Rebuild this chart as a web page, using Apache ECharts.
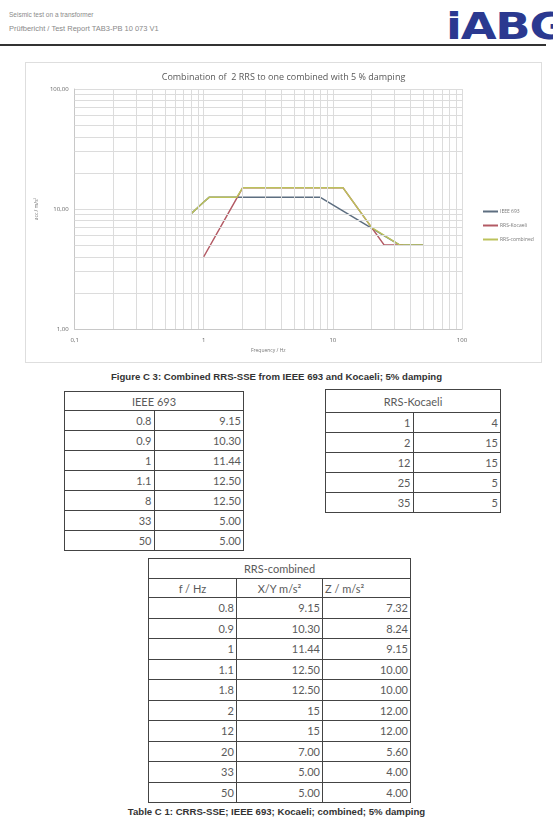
<!DOCTYPE html>
<html>
<head>
<meta charset="utf-8">
<script src="https://cdn.jsdelivr.net/npm/echarts@6/dist/echarts.min.js"></script>
<style>
  body { margin: 0; width: 553px; height: 825px; background: #fff; position: relative; overflow: hidden; font-family: "Liberation Sans", Arial, sans-serif; }
  .abs { position: absolute; }
  .hdr { color: #8a8a8a; white-space: nowrap; }
  .logo { color: #2b3990; font-weight: bold; font-size: 38px; letter-spacing: -1px; transform: scaleX(1.22); transform-origin: left top; font-family: "DejaVu Sans", sans-serif; }
  .rule { left: 0; width: 546px; height: 2px; background: #333; }
  .cap { font-weight: bold; color: #333; font-size: 9.6px; white-space: nowrap; width: 553px; text-align: center; left: 0; }
  #box { left: 25px; top: 62px; width: 517px; height: 301px; box-sizing: border-box; border: 1px solid #dedede; }
  #chart { width: 515px; height: 299px; }
  table { position: absolute; border-collapse: collapse; font-family: Lato, "Open Sans", sans-serif; font-size: 11px; color: #5a5a5a; }
  td { border: 1px solid #444; padding: 0 2px; text-align: right; line-height: 1; }
  td.h { text-align: center; }
</style>
</head>
<body>
<div class="abs hdr" style="left:9px;top:11px;font-size:6.5px;">Seismic test on a transformer</div>
<div class="abs hdr" style="left:9px;top:24px;font-size:7.5px;">Prüfbericht / Test Report TAB3-PB 10 073 V1</div>
<div class="abs logo" style="left:446px;top:4px;">iABG</div>
<div class="abs rule" style="top:44px;"></div>

<div id="box" class="abs"><div id="chart"></div></div>

<div class="abs cap" style="top:371px;">Figure C 3: Combined RRS-SSE from IEEE 693 and Kocaeli; 5% damping</div>

<table id="tIeee" style="left:64px;top:391px;width:180px;"></table>
<table id="tKoc" style="left:325px;top:389px;width:176px;"></table>
<table id="tComb" style="left:148px;top:558px;width:263px;"></table>

<div class="abs cap" style="top:806px;">Table C 1: CRRS-SSE; IEEE 693; Kocaeli; combined; 5% damping</div>

<script>
// IEEE 693
const ieeeFreq = [0.8, 0.9, 1, 1.1, 8, 33, 50];
const ieeeAcc = [9.15, 10.30, 11.44, 12.50, 12.50, 5.00, 5.00];
const ieeeAccText = ["9.15", "10.30", "11.44", "12.50", "12.50", "5.00", "5.00"];

// RRS-Kocaeli
const kocFreq = [1, 2, 12, 25, 35];
const kocAcc = [4, 15, 15, 5, 5];

// RRS-combined
const combFreq = [0.8, 0.9, 1, 1.1, 1.8, 2, 12, 20, 33, 50];
const combXY = [9.15, 10.30, 11.44, 12.50, 12.50, 15, 15, 7.00, 5.00, 5.00];
const combXYText = ["9.15", "10.30", "11.44", "12.50", "12.50", "15", "15", "7.00", "5.00", "5.00"];
const combZText = ["7.32", "8.24", "9.15", "10.00", "10.00", "12.00", "12.00", "5.60", "4.00", "4.00"];

// minor grid positions (log axes)
const minorX = [0.2, 0.3, 0.4, 0.5, 0.6, 0.7, 0.8, 0.9, 2, 3, 4, 5, 6, 7, 8, 9, 20, 30, 40, 50, 60, 70, 80, 90];
const minorY = [2, 3, 4, 5, 6, 7, 8, 9, 20, 30, 40, 50, 60, 70, 80, 90];

const gridColor = "#dcdcdc";

function pairs(xs, ys) {
  return xs.map((x, i) => [x, ys[i]]);
}

const chart = echarts.init(document.getElementById("chart"));
chart.setOption({
  animation: false,
  textStyle: { fontFamily: "Open Sans, sans-serif" },
  title: {
    text: "Combination of  2 RRS to one combined with 5 % damping",
    left: "center",
    top: 5,
    textStyle: { fontSize: 9, fontWeight: "normal", color: "#595959" },
  },
  legend: {
    orient: "vertical",
    left: 452,
    top: 141,
    itemWidth: 15,
    itemHeight: 2,
    itemGap: 9,
    icon: "rect",
    textStyle: { fontSize: 5, color: "#777", padding: [0, 0, 0, -3] },
    data: ["IEEE 693", "RRS-Kocaeli", "RRS-combined"],
  },
  grid: { left: 41, right: 79, top: 26, bottom: 33 },
  xAxis: {
    type: "log",
    logBase: 10,
    min: 0.1,
    max: 100,
    name: "Frequency / Hz",
    nameLocation: "middle",
    nameGap: 19,
    nameTextStyle: { fontSize: 5, color: "#777" },
    axisLine: { show: true, lineStyle: { color: "#c8c8c8" } },
    axisTick: { show: false },
    axisLabel: {
      fontSize: 6,
      color: "#666",
      margin: 8,
      formatter: (v) => String(v).replace(".", ","),
    },
    splitLine: { show: true, lineStyle: { color: gridColor } },
  },
  yAxis: {
    type: "log",
    logBase: 10,
    min: 1,
    max: 100,
    name: "acc / m/s²",
    nameLocation: "middle",
    nameGap: 31,
    nameTextStyle: { fontSize: 5, color: "#777" },
    axisLine: { show: true, lineStyle: { color: "#c8c8c8" } },
    axisTick: { show: false },
    axisLabel: {
      fontSize: 6,
      color: "#666",
      margin: 6,
      formatter: (v) => v.toFixed(2).replace(".", ","),
    },
    splitLine: { show: true, lineStyle: { color: gridColor } },
  },
  series: [
    {
      name: "grid",
      type: "line",
      data: [],
      silent: true,
      markLine: {
        silent: true,
        symbol: "none",
        label: { show: false },
        lineStyle: { color: gridColor, type: "solid", width: 1 },
        data: minorX.map((v) => ({ xAxis: v })).concat(minorY.map((v) => ({ yAxis: v }))),
      },
    },
    {
      name: "IEEE 693",
      type: "line",
      data: pairs(ieeeFreq, ieeeAcc),
      showSymbol: false,
      lineStyle: { color: "#5d6e80", width: 1.5 },
      itemStyle: { color: "#5d6e80" },
    },
    {
      name: "RRS-Kocaeli",
      type: "line",
      data: pairs(kocFreq, kocAcc),
      showSymbol: false,
      lineStyle: { color: "#b35a64", width: 1.5 },
      itemStyle: { color: "#b35a64" },
    },
    {
      name: "RRS-combined",
      type: "line",
      data: pairs(combFreq, combXY),
      showSymbol: false,
      lineStyle: { color: "#bcc25c", width: 1.5 },
      itemStyle: { color: "#bcc25c" },
    },
  ],
});

// tables
function row(cells, h) {
  return "<tr style='height:" + h + "px'>" + cells.map((c) => "<td>" + c + "</td>").join("") + "</tr>";
}

let html = "<tr style='height:19px'><td class='h' colspan='2'>IEEE 693</td></tr>";
ieeeFreq.forEach((f, i) => { html += row([f, ieeeAccText[i]], 20); });
document.getElementById("tIeee").innerHTML = html;

html = "<tr style='height:23px'><td class='h' colspan='2'>RRS-Kocaeli</td></tr>";
kocFreq.forEach((f, i) => { html += row([f, kocAcc[i]], 20); });
document.getElementById("tKoc").innerHTML = html;

html = "<tr style='height:20px'><td class='h' colspan='3'>RRS-combined</td></tr>";
html += "<tr style='height:19px'><td class='h'>f / Hz</td><td class='h'>X/Y m/s²</td><td class='h' style='text-align:left'>Z / m/s²</td></tr>";
combFreq.forEach((f, i) => { html += row([f, combXYText[i], combZText[i]], 20.5); });
document.getElementById("tComb").innerHTML = html;
document.querySelectorAll("#tIeee tr td:first-child, #tKoc tr td:first-child").forEach((td) => {
  if (!td.classList.contains("h")) td.style.width = "50%";
});
document.querySelectorAll("#tComb tr:nth-child(2) td").forEach((td, i) => {
  td.style.width = ["89px", "86px", "88px"][i];
});
</script>
</body>
</html>
